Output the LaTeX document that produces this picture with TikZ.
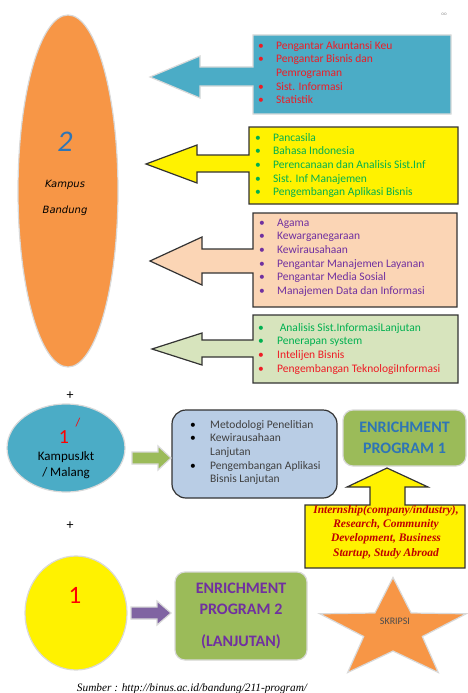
\documentclass[tikz,border=0pt]{standalone}
\usepackage{fontspec}
\setmainfont{Carlito}
\newfontfamily\dejavu{DejaVu Sans}
\newfontfamily\timesfont{Liberation Serif}
\usetikzlibrary{shapes.geometric}

\definecolor{campusorange}{HTML}{F79646}
\definecolor{calloutcyan}{HTML}{4BACC6}
\definecolor{peach}{HTML}{FBD5B5}
\definecolor{palegreen}{HTML}{D7E4BD}
\definecolor{steelbox}{HTML}{B9CDE5}
\definecolor{olivebox}{HTML}{9BBB59}
\definecolor{arrowpurple}{HTML}{8064A2}
\definecolor{textpurple}{HTML}{7030A0}
\definecolor{textgreen}{HTML}{00B050}
\definecolor{textred}{HTML}{EE1C25}
\definecolor{textblue}{HTML}{2E75B6}
\definecolor{darkred}{HTML}{C00000}

\begin{document}
\begin{tikzpicture}[x=1pt,y=-1pt,
    softline/.style={draw=black!15, line width=1.2pt},
    darkline/.style={draw=black!80, line width=1.2pt},
    listtext/.style={inner sep=0pt, anchor=base west, align=left,
      font=\fontsize{11.5}{13.7}\selectfont},
    enrich/.style={rounded corners=10pt, softline, fill=olivebox, align=center,
      font=\fontsize{16}{21}\selectfont\bfseries}]
\useasboundingbox (0,0) rectangle (467,693);

\node[font=\fontsize{5}{6}\selectfont, text=black!45] (dots) at (444,14) {oo};

% kampus bandung
\node[ellipse, softline, fill=campusorange, minimum width=100, minimum height=352] (bandung) at (68,191) {};
\node[font=\fontsize{30}{30}\selectfont\itshape, text=textblue] (bdgnum) at (65,142) {2};
\node[font=\dejavu\itshape\fontsize{10}{12}\selectfont] (bdgname1) at (65,185) {Kampus};
\node[font=\dejavu\itshape\fontsize{10}{12}\selectfont] (bdgname2) at (65,211) {Bandung};

% callouts
\draw[softline, fill=calloutcyan] (451,35) -- (253,35) -- (253,67) -- (200,67) -- (200,56) -- (150,77)
  -- (200,98) -- (200,86) -- (253,86) -- (253,114) -- (451,114) -- cycle;
\node[listtext, text=textred] (semester1) at (258,49) {\begin{tabular}[t]{@{}p{18pt}@{}l@{}}
\textbullet & Pengantar Akuntansi Keu\\
\textbullet & Pengantar Bisnis dan\\
 & Pemrograman\\
\textbullet & Sist. Informasi\\
\textbullet & Statistik
\end{tabular}};

\draw[darkline, fill=yellow] (458,127) -- (249,127) -- (249,155) -- (197,155) -- (197,145) -- (146,164)
  -- (197,183) -- (197,172) -- (249,172) -- (249,204) -- (458,204) -- cycle;
\node[listtext, text=textgreen] (semester2) at (255,141) {\begin{tabular}[t]{@{}p{18pt}@{}l@{}}
\textbullet & Pancasila\\
\textbullet & Bahasa Indonesia\\
\textbullet & Perencanaan dan Analisis Sist.Inf\\
\textbullet & Sist. Inf Manajemen\\
\textbullet & Pengembangan Aplikasi Bisnis
\end{tabular}};

\draw[darkline, fill=peach] (457,213) -- (253,213) -- (253,249) -- (202,249) -- (202,237) -- (150,261)
  -- (202,285) -- (202,273) -- (253,273) -- (253,307) -- (457,307) -- cycle;
\node[listtext, text=textpurple] (semester3) at (259,226) {\begin{tabular}[t]{@{}p{18pt}@{}l@{}}
\textbullet & Agama\\
\textbullet & Kewarganegaraan\\
\textbullet & Kewirausahaan\\
\textbullet & Pengantar Manajemen Layanan\\
\textbullet & Pengantar Media Sosial\\
\textbullet & Manajemen Data dan Informasi
\end{tabular}};

\draw[darkline, fill=palegreen] (458,315) -- (253,315) -- (253,340) -- (202,340) -- (202,333) -- (152,349)
  -- (202,365) -- (202,357) -- (253,357) -- (253,383) -- (458,383) -- cycle;
\node[listtext, text=textgreen] (semester4) at (258,331) {\begin{tabular}[t]{@{}p{19pt}@{}l@{}}
\textbullet & \ Analisis Sist.InformasiLanjutan\\
\textbullet & Penerapan system\\
\textcolor{textred}{\textbullet} & \textcolor{textred}{Intelijen Bisnis}\\
\textcolor{textred}{\textbullet} & \textcolor{textred}{Pengembangan TeknologiInformasi}
\end{tabular}};

\node[font=\fontsize{14}{14}\selectfont] (plus1) at (70,396) {+};

% kampus jakarta / malang
\node[ellipse, softline, fill=calloutcyan, minimum width=118, minimum height=88] (jkt) at (66,448) {};
\node[font=\fontsize{20}{20}\selectfont, text=red] (jktnum) at (64,437) {1};
\node[font=\fontsize{12}{12}\selectfont, text=red] (jktslash) at (78,423) {/};
\node[font=\fontsize{13}{16}\selectfont, align=center] (jktname) at (66,465) {KampusJkt\\/ Malang};

\node[rounded corners=14pt, darkline, fill=steelbox, minimum width=165, minimum height=88] (lanjut) at (254.5,454) {};
\node[listtext, text=black!75] (lanjutlist) at (190,428) {\begin{tabular}[t]{@{}p{20pt}@{}l@{}}
\textcolor{black}{\textbullet} & Metodologi Penelitian\\
\textcolor{black}{\textbullet} & Kewirausahaan\\
 & Lanjutan\\
\textcolor{black}{\textbullet} & Pengembangan Aplikasi\\
 & Bisnis Lanjutan
\end{tabular}};
\draw[softline, fill=olivebox] (132,452) -- (158,452) -- (158,446) -- (171,458) -- (158,470) -- (158,464)
  -- (132,464) -- cycle;

\node[enrich, text=textblue, minimum width=123, minimum height=56] (enrich1) at (404.5,438) {ENRICHMENT\\PROGRAM 1};

\draw[darkline, fill=yellow] (305,505) -- (370,505) -- (370,487) -- (347,487) -- (387,468) -- (428,487)
  -- (405,487) -- (405,505) -- (465,505) -- (465,568) -- (305,568) -- cycle;
\node[font=\timesfont\bfseries\itshape\fontsize{11.5}{14.3}\selectfont, text=darkred, align=center] (kegiatan) at (386,532)
  {Internship(company/industry),\\Research, Community\\Development, Business\\Startup, Study Abroad};

\node[font=\fontsize{14}{14}\selectfont] (plus2) at (70,526) {+};

% kampus 1
\node[ellipse, softline, fill=yellow, minimum width=102, minimum height=114] (kampus1) at (76,613) {};
\node[font=\fontsize{25}{25}\selectfont, text=red] (k1num) at (75,595) {1};
\draw[softline, fill=arrowpurple] (131,607) -- (157,607) -- (157,601) -- (171,613) -- (157,625) -- (157,619)
  -- (131,619) -- cycle;

\node[enrich, text=textpurple, minimum width=132, minimum height=88] (enrich2) at (241,616)
  {ENRICHMENT\\PROGRAM 2\\[11pt](LANJUTAN)};

% skripsi
\draw[softline, fill=campusorange] (393,577.5) -- (411.1,613) -- (466.2,613.8) -- (422.3,636.5) -- (438.3,672.5)
  -- (393,651) -- (347.7,672.5) -- (363.7,636.5) -- (319.8,613.8) -- (374.9,613) -- cycle;
\node[font=\fontsize{10}{10}\selectfont, text=black!70] (skripsi) at (395,621) {SKRIPSI};

\node[font=\timesfont\itshape\fontsize{11.3}{13}\selectfont, anchor=base] (sumber) at (192,691)
  {Sumber : http://binus.ac.id/bandung/211-program/};
\end{tikzpicture}
\end{document}
